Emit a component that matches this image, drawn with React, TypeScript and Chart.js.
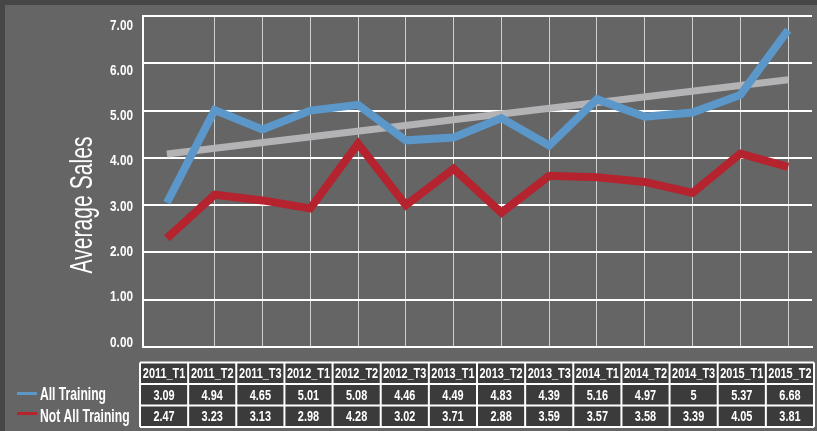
import React, { useEffect, useRef } from 'react';
import { Chart, registerables } from 'chart.js';

Chart.register(...registerables);

const categories = ['2011_T1', '2011_T2', '2011_T3', '2012_T1', '2012_T2', '2012_T3', '2013_T1', '2013_T2', '2013_T3', '2014_T1', '2014_T2', '2014_T3', '2015_T1', '2015_T2'];
// values printed in the data table
const allTrainingTable = ['3.09', '4.94', '4.65', '5.01', '5.08', '4.46', '4.49', '4.83', '4.39', '5.16', '4.97', '5', '5.37', '6.68'];
const notAllTrainingTable = ['2.47', '3.23', '3.13', '2.98', '4.28', '3.02', '3.71', '2.88', '3.59', '3.57', '3.58', '3.39', '4.05', '3.81'];
// values
const allTrainingLine = [3.05, 5.01, 4.6, 5.0, 5.12, 4.37, 4.43, 4.84, 4.26, 5.24, 4.87, 4.96, 5.33, 6.7];
const notAllTrainingLine = [2.3, 3.22, 3.1, 2.93, 4.3, 3.0, 3.77, 2.84, 3.62, 3.59, 3.49, 3.26, 4.09, 3.81];
const trendLine = [4.08, null, null, null, null, null, null, null, null, null, null, null, null, 5.65];
const yTickValues = [0, 1, 2, 3, 4, 5, 6, 7];
const seriesNames = ['All Training', 'Not All Training'];
const axisTitle = 'Average Sales';

const BLUE = '#5b97c9';
const RED = '#b4232e';
const GRAY = '#b3b3b6';
const FONT = "'Liberation Sans', Arial, sans-serif";

function squeezedText(ctx: CanvasRenderingContext2D, text: string, x: number, y: number, font: string, sx: number, align: CanvasTextAlign) {
  ctx.save();
  ctx.translate(x, y);
  ctx.scale(sx, 1);
  ctx.font = font;
  ctx.textAlign = align;
  ctx.textBaseline = 'alphabetic';
  ctx.fillText(text, 0, 0);
  ctx.restore();
}

const decorPlugin = {
  id: 'decor',
  beforeDraw(chart: any) {
    const ctx = chart.ctx as CanvasRenderingContext2D;
    ctx.save();
    ctx.fillStyle = '#464646';
    ctx.fillRect(0, 0, chart.width, chart.height);
    ctx.fillStyle = '#656566';
    ctx.fillRect(5, 5, chart.width - 5, chart.height - 5);
    ctx.restore();
  },
  afterDraw(chart: any) {
    const ctx = chart.ctx as CanvasRenderingContext2D;
    const xs = chart.scales.x;
    const ys = chart.scales.y;
    ctx.save();
    ctx.fillStyle = '#ffffff';

    // y tick labels (label column is slightly compressed vs. the gridlines, as in the original)
    const top = ys.getPixelForValue(yTickValues[yTickValues.length - 1]);
    for (const v of yTickValues) {
      const gy = ys.getPixelForValue(v);
      const ly = top + 8 + (gy - top) * 0.958;
      squeezedText(ctx, v.toFixed(2), 133, ly + 5.6, `bold 15.5px ${FONT}`, 0.76, 'right');
    }

    // axis title
    ctx.save();
    ctx.translate(91.5, 205);
    ctx.rotate(-Math.PI / 2);
    ctx.scale(0.66, 1);
    ctx.font = `32px ${FONT}`;
    ctx.textAlign = 'center';
    ctx.textBaseline = 'alphabetic';
    ctx.fillText(axisTitle, 0, 0);
    ctx.restore();

    // data table
    const n = categories.length;
    const tLeft = xs.left - 3;
    const tRight = xs.right + 2;
    const colW = (tRight - tLeft) / n;
    const rows = [362.5, 384, 405.5, 427];
    ctx.fillStyle = '#3b3b3b';
    ctx.fillRect(tLeft, rows[0], tRight - tLeft, rows[3] - rows[0]);
    ctx.strokeStyle = '#ffffff';
    ctx.lineWidth = 2;
    for (let r = 0; r < rows.length; r++) {
      ctx.beginPath();
      ctx.moveTo(tLeft, rows[r]);
      ctx.lineTo(tRight, rows[r]);
      ctx.stroke();
    }
    for (let c = 0; c <= n; c++) {
      const x = tLeft + c * colW;
      ctx.beginPath();
      ctx.moveTo(x, rows[0]);
      ctx.lineTo(x, rows[3]);
      ctx.stroke();
    }
    ctx.fillStyle = '#ffffff';
    const rowTexts = [categories, allTrainingTable, notAllTrainingTable];
    for (let r = 0; r < 3; r++) {
      const cy = (rows[r] + rows[r + 1]) / 2 + 5.2;
      for (let c = 0; c < n; c++) {
        const cx = tLeft + (c + 0.5) * colW;
        squeezedText(ctx, rowTexts[r][c], cx, cy, `bold 14px ${FONT}`, 0.78, 'center');
      }
    }

    // legend
    const legendColors = [BLUE, RED];
    const legendY = [393.5, 413.5];
    const legendBase = [400, 421.5];
    for (let i = 0; i < seriesNames.length; i++) {
      ctx.fillStyle = legendColors[i];
      ctx.fillRect(17, legendY[i] - 1.5, 20, 3);
      ctx.fillStyle = '#ffffff';
      squeezedText(ctx, seriesNames[i], 40, legendBase[i], `bold 18.5px ${FONT}`, 0.655, 'left');
    }
    ctx.restore();
  },
};

export default function App() {
  const canvasRef = useRef<HTMLCanvasElement | null>(null);

  useEffect(() => {
    document.body.style.margin = '0';
    const canvas = canvasRef.current;
    if (!canvas) return;
    const chart = new Chart(canvas, {
      type: 'line',
      data: {
        labels: categories,
        datasets: [
          {
            label: seriesNames[0],
            data: allTrainingLine,
            borderColor: BLUE,
            backgroundColor: BLUE,
            borderWidth: 8,
            pointRadius: 0,
            borderJoinStyle: 'miter',
            borderCapStyle: 'butt',
            tension: 0,
          },
          {
            label: seriesNames[1],
            data: notAllTrainingLine,
            borderColor: RED,
            backgroundColor: RED,
            borderWidth: 8,
            pointRadius: 0,
            borderJoinStyle: 'miter',
            borderCapStyle: 'butt',
            tension: 0,
          },
          {
            label: 'Trend',
            data: trendLine as any,
            borderColor: GRAY,
            backgroundColor: GRAY,
            borderWidth: 7,
            pointRadius: 0,
            spanGaps: true,
            borderCapStyle: 'butt',
          },
        ],
      },
      options: {
        responsive: false,
        animation: false,
        layout: { padding: { top: 16, right: 5, left: 0, bottom: 84 } },
        scales: {
          x: {
            type: 'category',
            offset: true,
            grid: {
              offset: false,
              drawTicks: false,
              lineWidth: 1,
              color: (c: any) => (c.index === 0 ? 'rgba(0,0,0,0)' : '#cfcfcf'),
            },
            border: { display: true, color: '#ffffff', width: 2 },
            ticks: { display: false },
            afterFit: (s: any) => {
              s.height = 0;
            },
          },
          y: {
            min: 0,
            max: 7,
            afterBuildTicks: (s: any) => {
              s.ticks = yTickValues.map((v) => ({ value: v }));
            },
            ticks: { display: false },
            grid: { color: '#ffffff', lineWidth: 2, drawTicks: false },
            border: { display: true, color: '#ffffff', width: 2 },
            afterFit: (s: any) => {
              s.width = 143;
            },
          },
        },
        plugins: {
          legend: { display: false },
          tooltip: { enabled: false },
        },
      },
      plugins: [decorPlugin],
    });
    return () => chart.destroy();
  }, []);

  return (
    <div style={{ position: 'fixed', left: 0, top: 0, width: 817, height: 431 }}>
      <canvas ref={canvasRef} width={817} height={431} style={{ display: 'block', width: 817, height: 431 }} />
    </div>
  );
}
